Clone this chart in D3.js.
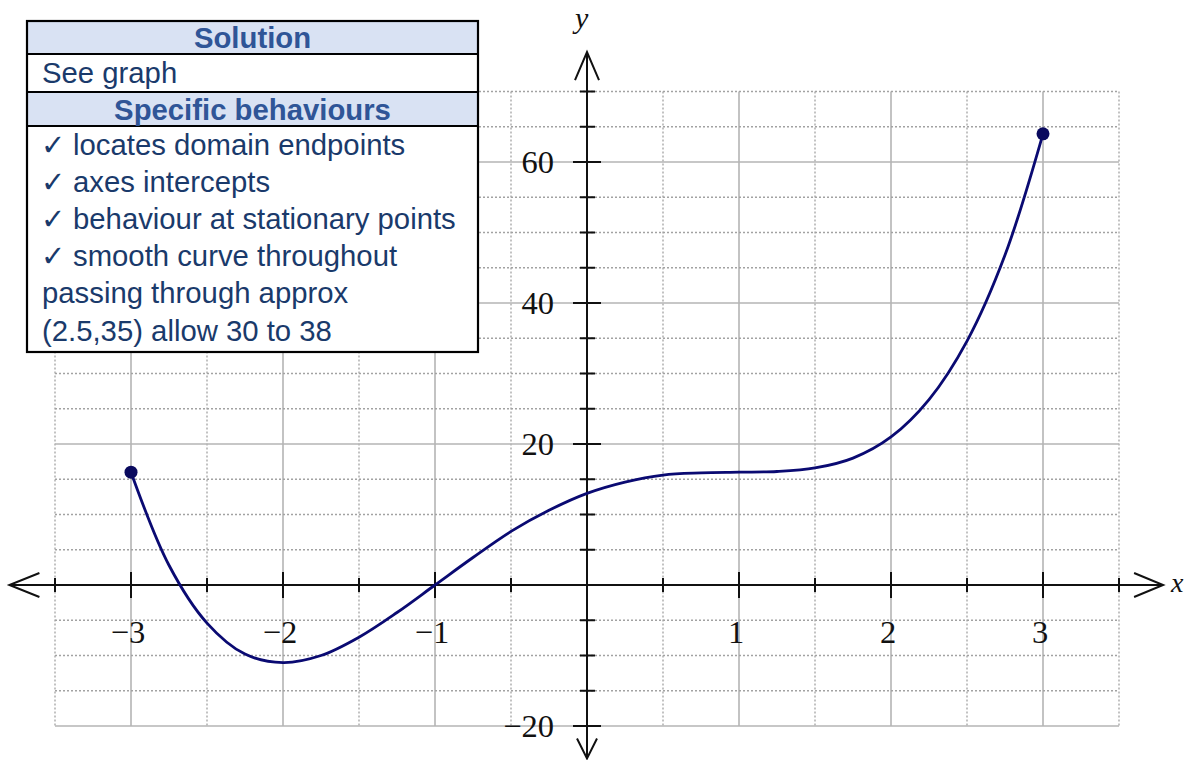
<!DOCTYPE html>
<html>
<head>
<meta charset="utf-8">
<script src="https://cdn.jsdelivr.net/npm/d3@7"></script>
<style>
  html, body { margin: 0; padding: 0; background: #fff; }
  svg { display: block; }
</style>
</head>
<body>
<svg id="chart" width="1185" height="760"></svg>
<script>
// Sampled points on the curve y = f(x), -3 <= x <= 3
const xValues = [-3, -2.75, -2.5, -2.25, -2, -1.75, -1.5, -1.25, -1, -0.75, -0.5, -0.25,
                 0, 0.25, 0.5, 0.75, 1, 1.25, 1.5, 1.75, 2, 2.25, 2.5, 2.75, 3];
const yValues = [16, 2.8, -5.4, -9.8, -11, -10, -7.4, -3.9, 0, 3.9, 7.6, 10.6,
                 13, 14.6, 15.6, 15.9, 16, 16.1, 16.6, 18, 21, 26.3, 34.6, 46.8, 64];

// Closed endpoints of the domain
const endpointX = [-3, 3];
const endpointY = [16, 64];

// Axis labels
const xTickLabels = [-3, -2, -1, 1, 2, 3];
const yTickLabels = [-20, 20, 40, 60];

// Marking key text
const headerTitles = ["Solution", "Specific behaviours"];
const solutionLines = ["See graph"];
const behaviourLines = [
  { check: true,  text: "locates domain endpoints" },
  { check: true,  text: "axes intercepts" },
  { check: true,  text: "behaviour at stationary points" },
  { check: true,  text: "smooth curve throughout" },
  { check: false, text: "passing through approx" },
  { check: false, text: "(2.5,35) allow 30 to 38" }
];

const svg = d3.select("#chart");

const x = d3.scaleLinear().domain([-3.5, 3.5]).range([55, 1119]);
const y = d3.scaleLinear().domain([-20, 70]).range([726, 91.5]);

// ---------- grid ----------
const gridX = d3.range(-3.5, 3.5001, 0.5);
const gridY = d3.range(-20, 70.001, 5);
const isInt = v => Math.abs(v - Math.round(v)) < 1e-9;
const isMajorY = v => Math.abs(v % 20) < 1e-9;

const grid = svg.append("g").attr("class", "grid");
grid.selectAll("line.gx").data(gridX).join("line")
  .attr("class", "gx")
  .attr("x1", d => x(d)).attr("x2", d => x(d))
  .attr("y1", y(70)).attr("y2", y(-20))
  .attr("stroke", d => isInt(d) ? "#b4b4b4" : "#a2a2a2")
  .attr("stroke-width", d => isInt(d) ? 1.6 : 1.3)
  .attr("stroke-dasharray", d => isInt(d) ? null : "2,2");
grid.selectAll("line.gy").data(gridY).join("line")
  .attr("class", "gy")
  .attr("x1", x(-3.5)).attr("x2", x(3.5))
  .attr("y1", d => y(d)).attr("y2", d => y(d))
  .attr("stroke", d => isMajorY(d) ? "#b4b4b4" : "#a2a2a2")
  .attr("stroke-width", d => isMajorY(d) ? 1.6 : 1.3)
  .attr("stroke-dasharray", d => isMajorY(d) ? null : "2,2");

// ---------- axes ----------
const axes = svg.append("g").attr("class", "axes")
  .attr("stroke", "#111").attr("stroke-width", 2).attr("fill", "none");

const x0 = x(0), y0 = y(0);
const xMinPx = x(-3.8), xMaxPx = x(3.79);
const yTopPx = y(75.6), yBotPx = y(-24.6);

axes.append("line").attr("x1", xMinPx).attr("x2", xMaxPx).attr("y1", y0).attr("y2", y0);
axes.append("line").attr("x1", x0).attr("x2", x0).attr("y1", yTopPx).attr("y2", yBotPx);

// arrowheads (open chevrons)
axes.append("path").attr("d", `M${xMinPx + 30},${y0 - 12} L${xMinPx},${y0} L${xMinPx + 30},${y0 + 12}`);
axes.append("path").attr("d", `M${xMaxPx - 29},${y0 - 12} L${xMaxPx},${y0} L${xMaxPx - 29},${y0 + 12}`);
axes.append("path").attr("d", `M${x0 - 12},${yTopPx + 28} L${x0},${yTopPx} L${x0 + 12},${yTopPx + 28}`);
axes.append("path").attr("d", `M${x0 - 10},${yBotPx - 20} L${x0},${yBotPx} L${x0 + 10},${yBotPx - 20}`);

// tick marks
const xTicks = gridX.filter(d => Math.abs(d) > 1e-9);
const yTicks = gridY.filter(d => Math.abs(d) > 1e-9);
axes.selectAll("line.tx").data(xTicks).join("line")
  .attr("class", "tx")
  .attr("x1", d => x(d)).attr("x2", d => x(d))
  .attr("y1", d => y0 - (isInt(d) ? 13 : 7))
  .attr("y2", d => y0 + (isInt(d) ? 13 : 7));
axes.selectAll("line.ty").data(yTicks).join("line")
  .attr("class", "ty")
  .attr("y1", d => y(d)).attr("y2", d => y(d))
  .attr("x1", d => x0 - (isMajorY(d) ? 14 : 7))
  .attr("x2", d => x0 + (isMajorY(d) ? 14 : 8));

// tick labels
const labelFont = "'Liberation Serif', 'DejaVu Serif', serif";
const fmt = v => (v < 0 ? "\u2212" : "") + Math.abs(v);
svg.append("g").selectAll("text").data(xTickLabels).join("text")
  .attr("x", d => x(d) - 3).attr("y", y0 + 58)
  .attr("text-anchor", "middle")
  .attr("font-family", labelFont).attr("font-size", 32.5).attr("fill", "#111")
  .text(fmt);
svg.append("g").selectAll("text").data(yTickLabels).join("text")
  .attr("x", x0 - 33).attr("y", d => y(d) + 11)
  .attr("text-anchor", "end")
  .attr("font-family", labelFont).attr("font-size", 32.5).attr("fill", "#111")
  .text(fmt);

// axis names
svg.append("text").attr("x", xMaxPx + 8).attr("y", y0 + 7)
  .attr("font-family", labelFont).attr("font-style", "italic")
  .attr("font-size", 28).attr("fill", "#111").text("x");
svg.append("text").attr("x", x0 - 12).attr("y", 28)
  .attr("font-family", labelFont).attr("font-style", "italic")
  .attr("font-size", 30).attr("fill", "#111").text("y");

// ---------- curve ----------
const pts = xValues.map((v, i) => [v, yValues[i]]);
const line = d3.line()
  .x(d => x(d[0])).y(d => y(d[1]))
  .curve(d3.curveCatmullRom.alpha(0.5));
svg.append("path").datum(pts)
  .attr("d", line)
  .attr("fill", "none")
  .attr("stroke", "#0a0a72")
  .attr("stroke-width", 2.8)
  .attr("stroke-linejoin", "round");

svg.append("g").selectAll("circle").data(endpointX.map((v, i) => [v, endpointY[i]])).join("circle")
  .attr("cx", d => x(d[0])).attr("cy", d => y(d[1]))
  .attr("r", 6.5).attr("fill", "#0a0a5e");

// ---------- marking key table ----------
const tbl = svg.append("g").attr("class", "key");
const tLeft = 27, tRight = 478;
const rowEdges = [21, 54, 92, 126, 352];
const textFont = "'Liberation Sans', Arial, sans-serif";
const headBlue = "#2f5597", bodyBlue = "#1a3a6b";
const textSize = 29.3;

tbl.append("rect").attr("x", tLeft).attr("y", rowEdges[0])
  .attr("width", tRight - tLeft).attr("height", rowEdges[4] - rowEdges[0])
  .attr("fill", "#fff");
[0, 2].forEach(r => {
  tbl.append("rect").attr("x", tLeft).attr("y", rowEdges[r])
    .attr("width", tRight - tLeft).attr("height", rowEdges[r + 1] - rowEdges[r])
    .attr("fill", "#d9e2f3");
});
rowEdges.slice(1, 4).forEach(e => {
  tbl.append("line").attr("x1", tLeft).attr("x2", tRight).attr("y1", e).attr("y2", e)
    .attr("stroke", "#000").attr("stroke-width", 2);
});
tbl.append("rect").attr("x", tLeft).attr("y", rowEdges[0])
  .attr("width", tRight - tLeft).attr("height", rowEdges[4] - rowEdges[0])
  .attr("fill", "none").attr("stroke", "#000").attr("stroke-width", 2.2);

const headBaselines = [48, 120];
tbl.selectAll("text.head").data(headerTitles).join("text")
  .attr("class", "head")
  .attr("x", (tLeft + tRight) / 2).attr("y", (d, i) => headBaselines[i])
  .attr("text-anchor", "middle")
  .attr("font-family", textFont).attr("font-weight", "bold")
  .attr("font-size", textSize).attr("fill", headBlue)
  .text(d => d);

tbl.selectAll("text.sol").data(solutionLines).join("text")
  .attr("class", "sol")
  .attr("x", 42).attr("y", 83)
  .attr("font-family", textFont).attr("font-size", textSize).attr("fill", bodyBlue)
  .text(d => d);

const beh = tbl.selectAll("g.beh").data(behaviourLines).join("g")
  .attr("class", "beh")
  .attr("transform", (d, i) => `translate(0,${155 + i * 37.1})`);
beh.filter(d => d.check).append("text")
  .attr("x", 41).attr("y", 0)
  .attr("font-family", "'DejaVu Sans', sans-serif").attr("font-size", 29)
  .attr("fill", bodyBlue).text("\u2713");
beh.append("text")
  .attr("x", d => d.check ? 73 : 42).attr("y", 0)
  .attr("font-family", textFont).attr("font-size", textSize).attr("fill", bodyBlue)
  .text(d => d.text);
</script>
</body>
</html>
